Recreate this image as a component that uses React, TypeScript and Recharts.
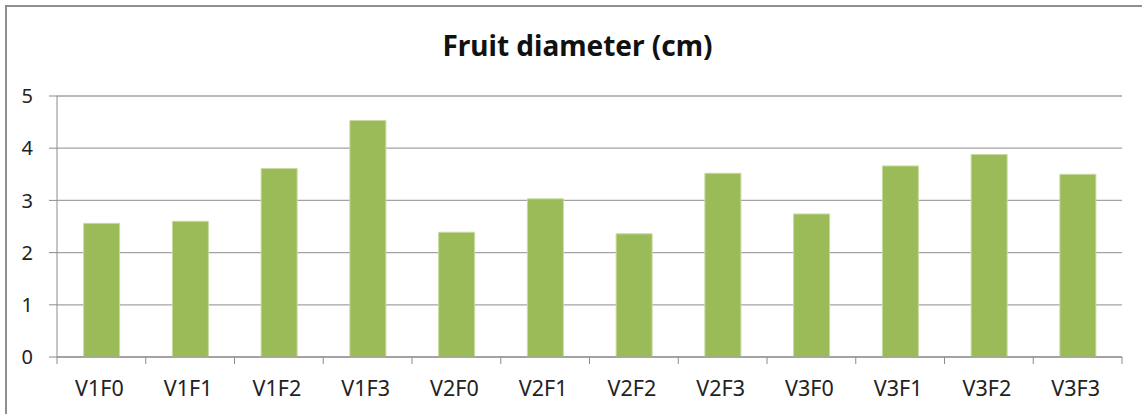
import React from 'react';
import { BarChart, Bar, XAxis, YAxis, CartesianGrid } from 'recharts';

const categories = ['V1F0', 'V1F1', 'V1F2', 'V1F3', 'V2F0', 'V2F1', 'V2F2', 'V2F3', 'V3F0', 'V3F1', 'V3F2', 'V3F3'];
const diameters = [2.56, 2.6, 3.61, 4.53, 2.39, 3.03, 2.36, 3.52, 2.74, 3.66, 3.88, 3.5];
const yTicks = [0, 1, 2, 3, 4, 5];
const title = 'Fruit diameter (cm)';

const data = categories.map((name, i) => ({ name, value: diameters[i] }));

const FONT = '"Noto Sans", "Open Sans", sans-serif';
const AXIS_COLOR = '#8c8c8c';
const X_TICK_SIZE = 7;
const X_TICK_MARGIN = 17;

const CategoryTick = (props: any) => {
  const { x, y, payload, index } = props;
  const half = payload && payload.offset ? payload.offset : 0;
  const top = y - X_TICK_MARGIN - X_TICK_SIZE;
  const bottom = y - X_TICK_MARGIN;
  return (
    <g>
      <line x1={x - half} x2={x - half} y1={top} y2={bottom} stroke={AXIS_COLOR} strokeWidth={1} />
      {index === categories.length - 1 ? (
        <line x1={x + half} x2={x + half} y1={top} y2={bottom} stroke={AXIS_COLOR} strokeWidth={1} />
      ) : null}
      <text x={x - 2} y={y} dy="0.71em" textAnchor="middle" fill="#222" fontSize={21.5} fontFamily={FONT}>
        {payload.value}
      </text>
    </g>
  );
};

export default function App() {
  return (
    <div style={{ position: 'absolute', left: 0, top: 0, width: 1142, height: 414, background: '#fff', overflow: 'hidden' }}>
      <div
        style={{
          position: 'absolute',
          left: 5,
          top: 5,
          width: 1160,
          height: 430,
          border: '2px solid #8f8f8f',
          boxSizing: 'border-box',
        }}
      />
      <div
        style={{
          position: 'absolute',
          left: 0,
          top: 27,
          width: 1155,
          textAlign: 'center',
          fontFamily: FONT,
          fontWeight: 700,
          fontSize: 28,
          lineHeight: '36px',
          color: '#111',
        }}
      >
        {title}
      </div>
      <div style={{ position: 'absolute', left: 0, top: 0 }}>
        <BarChart
          width={1142}
          height={414}
          data={data}
          margin={{ top: 96, right: 20, bottom: 0, left: 0 }}
          barCategoryGap="30%"
        >
          <CartesianGrid vertical={false} stroke="#a3a3a3" strokeWidth={1.3} />
          <XAxis
            dataKey="name"
            height={57}
            tickSize={X_TICK_SIZE}
            tickMargin={X_TICK_MARGIN}
            tickLine={false}
            axisLine={{ stroke: AXIS_COLOR }}
            tick={<CategoryTick />}
            interval={0}
          />
          <YAxis
            width={57}
            domain={[0, 5]}
            ticks={yTicks}
            tickSize={8}
            tickMargin={16}
            axisLine={{ stroke: AXIS_COLOR }}
            tickLine={{ stroke: AXIS_COLOR }}
            tick={{ fill: '#222', fontSize: 20, fontFamily: FONT }}
            interval={0}
          />
          <Bar dataKey="value" fill="#9bbb59" stroke="#c6dba0" strokeWidth={1} isAnimationActive={false} />
        </BarChart>
      </div>
    </div>
  );
}
